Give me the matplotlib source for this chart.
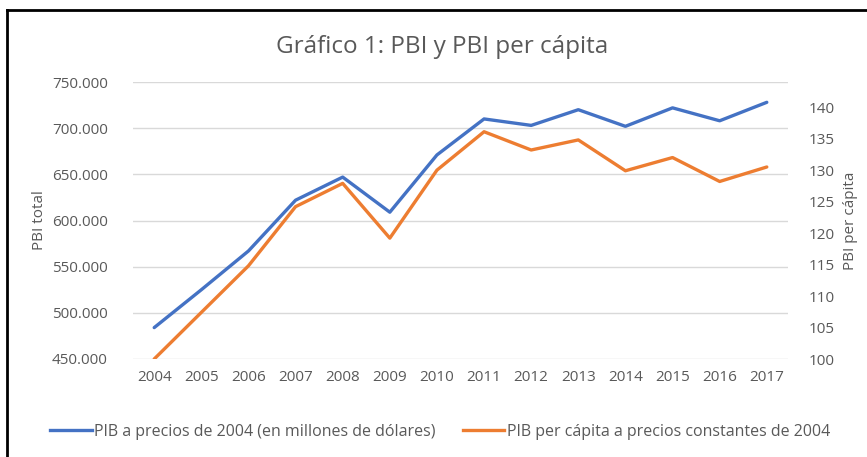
import numpy as np
import matplotlib.pyplot as plt
from matplotlib.ticker import FuncFormatter
from matplotlib.lines import Line2D

plt.rcParams['font.family'] = ['Open Sans', 'DejaVu Sans']

years = ['2004', '2005', '2006', '2007', '2008', '2009', '2010',
         '2011', '2012', '2013', '2014', '2015', '2016', '2017']
pib_total = [484000, 525000, 567000, 622000, 647000, 609000, 671000,
             710000, 703000, 720000, 702000, 722000, 708000, 728000]
pib_capita = [100.0, 107.4, 114.8, 124.2, 127.9, 119.2, 130.0,
              136.1, 133.2, 134.8, 129.9, 132.0, 128.2, 130.5]

blue = '#4472C4'
orange = '#ED7D31'
grey = '#595959'

fig = plt.figure(figsize=(8.67, 4.57), dpi=100)
ax = fig.add_axes([133/867, 1 - 359/457, (788 - 133)/867, (359 - 82)/457])
ax2 = ax.twinx()

x = np.arange(len(years))
ax.plot(x, pib_total, color=blue, lw=2.4, solid_capstyle='round', zorder=3)
ax2.plot(x, pib_capita, color=orange, lw=2.4, solid_capstyle='round', zorder=3)

ax.set_xlim(-0.45, len(years) - 0.55)
ax.set_ylim(450000, 750000)
ax.set_yticks(np.arange(450000, 750001, 50000))
ax.yaxis.set_major_formatter(FuncFormatter(lambda v, p: f'{int(v):,}'.replace(',', '.')))
ax.grid(axis='y', color='#d9d9d9', lw=1)
ax.set_axisbelow(True)
ax.set_xticks(x)
ax.set_xticklabels(years)

ax2.set_ylim(100, 144)
ax2.set_yticks(np.arange(100, 141, 5))

for a in (ax, ax2):
    for s in a.spines.values():
        s.set_visible(False)
    a.tick_params(length=0, labelsize=11, colors=grey)
ax.tick_params(axis='y', pad=18)
ax.tick_params(axis='x', pad=8)
ax2.tick_params(axis='y', pad=15)

ax.set_ylabel('PBI total', color=grey, fontsize=11, labelpad=4)
ax2.set_ylabel('PBI per cápita', color=grey, fontsize=11, labelpad=6)

fig.text(442/867, 1 - 47/457, 'Gráfico 1: PBI y PBI per cápita', ha='center', va='center',
         fontsize=17.5, color=grey)

handles = [Line2D([], [], color=blue, lw=2.4),
           Line2D([], [], color=orange, lw=2.4)]
labels = ['PIB a precios de 2004 (en millones de dólares)',
          'PIB per cápita a precios constantes de 2004']
fig.legend(handles, labels, loc='center', bbox_to_anchor=(440/867, 1 - 432/457), ncol=2,
           frameon=False, fontsize=11.5, labelcolor=grey, handlelength=2.6,
           handletextpad=0.15, columnspacing=1.7)

# chart border (top and left edges visible in the source)
fig.add_artist(Line2D([7/867, 1], [1 - 10/457, 1 - 10/457], color='black', lw=2, transform=fig.transFigure))
fig.add_artist(Line2D([7/867, 7/867], [0, 1 - 10/457], color='black', lw=2, transform=fig.transFigure))

fig.savefig('out.png', dpi=100)
